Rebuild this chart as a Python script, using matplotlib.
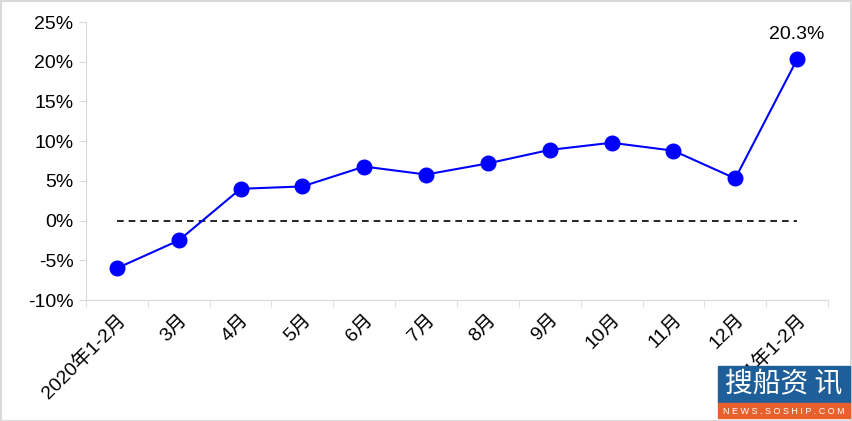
import matplotlib.pyplot as plt
from matplotlib.patches import Rectangle

plt.rcParams['font.family'] = ['Liberation Sans', 'Noto Sans CJK SC', 'DejaVu Sans']

months = ["2020年1-2月", "3月", "4月", "5月", "6月", "7月", "8月", "9月",
          "10月", "11月", "12月", "2021年1-2月"]
growth = [-6.0, -2.5, 4.0, 4.3, 6.8, 5.8, 7.2, 8.9, 9.8, 8.8, 5.3, 20.3]
yticks = [-10, -5, 0, 5, 10, 15, 20, 25]

fs = 14

fig = plt.figure(figsize=(8.53, 4.21), dpi=100)
ax = fig.add_axes([0.1008, 0.2874, 0.8699, 0.6603])

x = list(range(len(months)))
ax.plot(x, growth, color="#0000ff", lw=1.5, marker="o", ms=10.5, zorder=3)
ax.plot([x[0], x[-1]], [0, 0], color="black", lw=1.2, ls=(0, (4, 3)), zorder=2)
ax.annotate(f"{growth[-1]}%", (x[-1], growth[-1]), xytext=(0, 12),
            textcoords="offset points", ha="center", va="bottom", fontsize=fs)

ax.set_xlim(-0.5, len(months) - 0.5)
ax.set_ylim(-10, 25)
ax.set_yticks(yticks)
ax.set_yticklabels([f"{v}%" for v in yticks], fontsize=fs)
ax.set_xticks(x)
ax.set_xticklabels(months, rotation=45, ha="right", rotation_mode="anchor", fontsize=fs)
ax.set_xticks([i - 0.5 for i in range(len(months) + 1)], minor=True)
ax.tick_params(axis="x", which="major", length=0, pad=8)
ax.tick_params(axis="x", which="minor", length=5, color="#d9d9d9")
ax.tick_params(axis="y", length=5, color="#d9d9d9", pad=4)

for s in ["top", "right"]:
    ax.spines[s].set_visible(False)
for s in ["left", "bottom"]:
    ax.spines[s].set_color("#d9d9d9")

# outer frame
fig.patches.append(Rectangle((0.001, 0.001), 0.997, 0.996, transform=fig.transFigure,
                             fill=False, edgecolor="#d9d9d9", lw=1.5))

# watermark
fig.patches.append(Rectangle((718 / 853, 18 / 421), 132 / 853, 37 / 421,
                             transform=fig.transFigure, color="#1f5f99", zorder=10))
fig.patches.append(Rectangle((718 / 853, 3 / 421), 132 / 853, 15 / 421,
                             transform=fig.transFigure, color="#e8612c", zorder=10))
fig.text(784 / 853, 37 / 421, "搜船资 讯", color="white", fontsize=20, ha="center",
         va="center", family=['Noto Sans CJK SC'], zorder=11)
fig.text(784 / 853, 10 / 421, "N E W S . S O S H I P . C O M", color="white", fontsize=6.5,
         ha="center", va="center", zorder=11)

fig.savefig("out.png", dpi=100)
